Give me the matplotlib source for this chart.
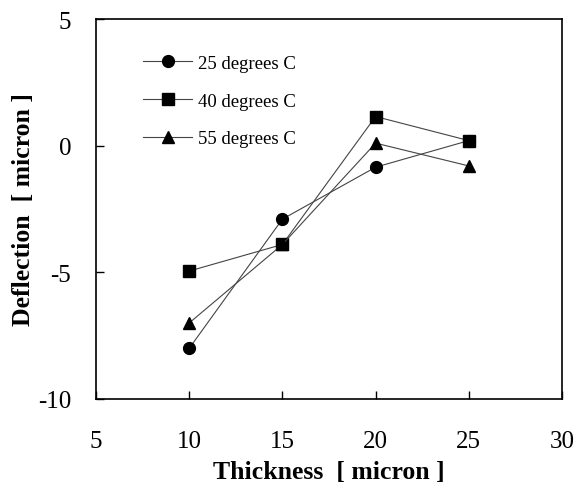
import matplotlib
matplotlib.use("Agg")
import matplotlib.pyplot as plt

thickness = [10, 15, 20, 25]
series_names = ["25 degrees C", "40 degrees C", "55 degrees C"]
defl_25 = [-8.0, -2.9, -0.85, 0.2]
defl_40 = [-4.95, -3.9, 1.15, 0.2]
defl_55 = [-7.0, -3.9, 0.1, -0.8]
markers = ["o", "s", "^"]
x_ticks = [5, 10, 15, 20, 25, 30]
y_ticks = [-10, -5, 0, 5]

plt.rcParams['font.family'] = ['Liberation Serif', 'DejaVu Serif']

fig = plt.figure(figsize=(5.79, 4.89), dpi=100)
ax = fig.add_axes([96/579, 1-400/489, (562-96)/579, (400-20)/489])

for vals, name, m in zip([defl_25, defl_40, defl_55], series_names, markers):
    ms = 8.5 if m == "o" else (8 if m == "s" else 8.5)
    ax.plot(thickness, vals, color="#444444", lw=0.8, marker=m, markersize=ms,
            markerfacecolor="black", markeredgecolor="black", label=name)

ax.set_xlim(5, 30)
ax.set_ylim(-10, 5)
ax.set_xticks(x_ticks)
ax.set_yticks(y_ticks)
ax.set_xticklabels([str(v) for v in x_ticks])
ax.set_yticklabels([str(v) for v in y_ticks])
ax.tick_params(axis='both', direction='in', length=6, width=1, labelsize=18)
ax.tick_params(axis='x', pad=22)
ax.tick_params(axis='y', pad=18)
for s in ax.spines.values():
    s.set_linewidth(1.2)

ax.set_xlabel("Thickness  [ micron ]", fontsize=18.5, fontweight='bold', labelpad=6)
ax.set_ylabel("Deflection  [ micron ]", fontsize=18.5, fontweight='bold', labelpad=2)

leg = ax.legend(loc='upper left', bbox_to_anchor=(0.065, 0.95), frameon=False,
                fontsize=13.5, handlelength=2.6, handletextpad=0.3, labelspacing=1.1)

fig.savefig("out.png", dpi=100)
